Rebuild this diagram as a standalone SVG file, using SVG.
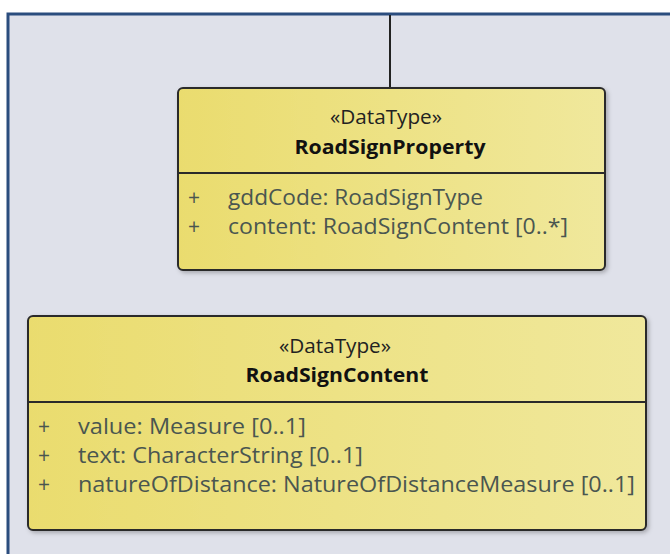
<svg xmlns="http://www.w3.org/2000/svg" width="670" height="554" viewBox="0 0 670 554">
<defs>
<linearGradient id="yel" x1="0" y1="0" x2="1" y2="0">
<stop offset="0" stop-color="#eadc6e"/>
<stop offset="1" stop-color="#f0e89c"/>
</linearGradient>
<filter id="sh" x="-5%" y="-5%" width="110%" height="115%">
<feDropShadow dx="2" dy="2" stdDeviation="2" flood-color="#000" flood-opacity="0.25"/>
</filter>
</defs>
<style>
.box{fill:url(#yel);stroke:#2a2a2a;stroke-width:2}
.div{stroke:#2a2a2a;stroke-width:2}
.st{font-family:"Open Sans","Noto Sans",sans-serif;font-size:20px;fill:#222;text-anchor:middle}
.nm{font-family:"Open Sans","Noto Sans",sans-serif;font-size:20px;font-weight:bold;fill:#111;text-anchor:middle}
.at{font-family:"Open Sans","Noto Sans",sans-serif;font-size:21px;fill:#4a5650}
.conn{stroke:#222;stroke-width:2;fill:none}
</style>
<rect x="0" y="0" width="670" height="554" fill="#ffffff"/>
<rect x="8" y="14" width="670" height="560" fill="#dfe1ea" stroke="#2b4d7e" stroke-width="3"/>
<g id="connectors">
<line class="conn" x1="390" y1="15" x2="390" y2="88"/>
</g>
<g id="RoadSignProperty">
<rect class="box" x="178" y="88" width="427" height="182" rx="5" filter="url(#sh)"/>
<line class="div" x1="178" y1="173" x2="605" y2="173"/>
<text class="st" x="386" y="124" textLength="112" lengthAdjust="spacingAndGlyphs">«DataType»</text>
<text class="nm" x="390" y="154" textLength="191" lengthAdjust="spacingAndGlyphs">RoadSignProperty</text>
<text class="at" x="188" y="205">+</text>
<text class="at" x="228" y="205" textLength="255" lengthAdjust="spacingAndGlyphs">gddCode: RoadSignType</text>
<text class="at" x="188" y="234">+</text>
<text class="at" x="228" y="234" textLength="340" lengthAdjust="spacingAndGlyphs">content: RoadSignContent [0..*]</text>
</g>
<g id="RoadSignContent">
<rect class="box" x="28" y="316" width="618" height="214" rx="5" filter="url(#sh)"/>
<line class="div" x1="28" y1="402" x2="646" y2="402"/>
<text class="st" x="335" y="353" textLength="112" lengthAdjust="spacingAndGlyphs">«DataType»</text>
<text class="nm" x="337" y="382" textLength="183" lengthAdjust="spacingAndGlyphs">RoadSignContent</text>
<text class="at" x="38" y="434">+</text>
<text class="at" x="78" y="434" textLength="228" lengthAdjust="spacingAndGlyphs">value: Measure [0..1]</text>
<text class="at" x="38" y="463">+</text>
<text class="at" x="78" y="463" textLength="285" lengthAdjust="spacingAndGlyphs">text: CharacterString [0..1]</text>
<text class="at" x="38" y="492">+</text>
<text class="at" x="78" y="492" textLength="557" lengthAdjust="spacingAndGlyphs">natureOfDistance: NatureOfDistanceMeasure [0..1]</text>
</g>
</svg>
